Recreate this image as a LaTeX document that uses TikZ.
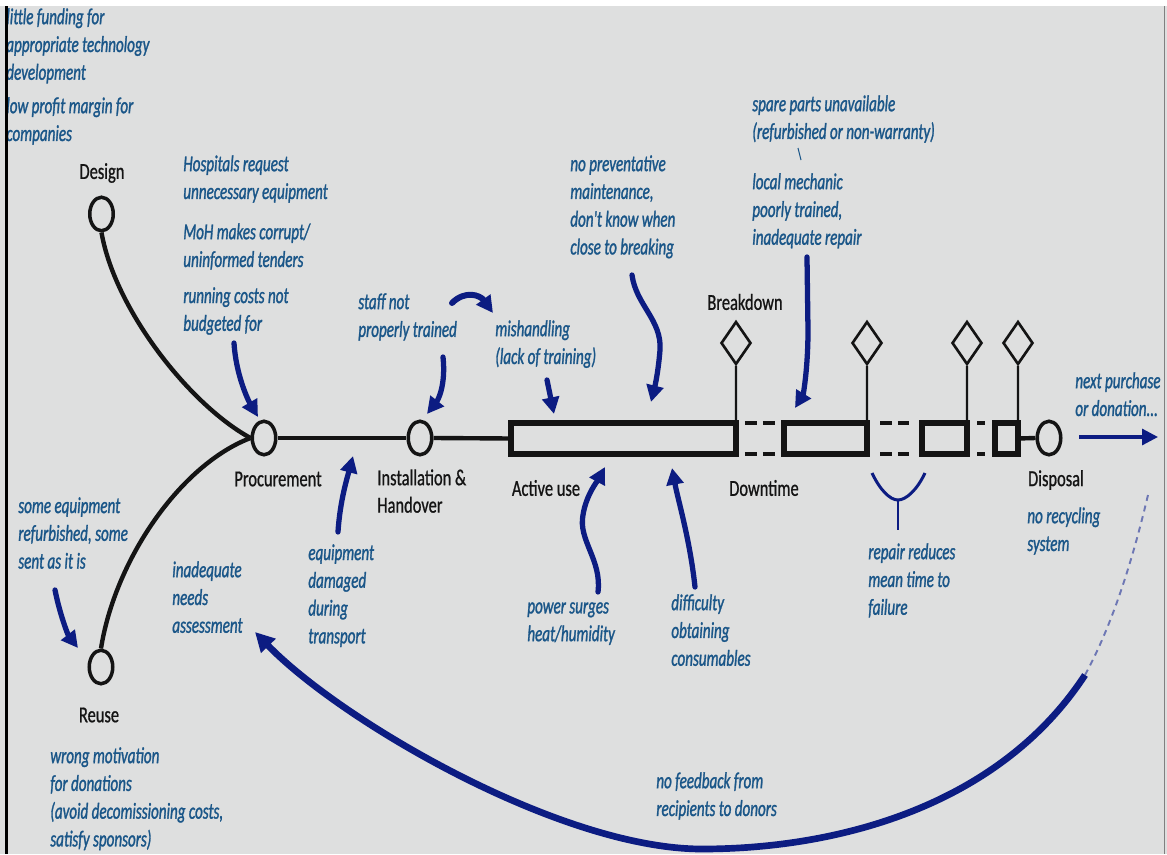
\documentclass[tikz,border=0pt]{standalone}
\usepackage{fontspec}
\setmainfont{Carlito}[FakeStretch=0.72, FakeBold=0.8]
\newfontfamily\notefont{Carlito}[FakeStretch=0.66, FakeBold=1.2]
\usetikzlibrary{arrows.meta, positioning, shapes.geometric}

\definecolor{paper}{RGB}{222,223,223}
\definecolor{noteblue}{RGB}{26,86,136}
\definecolor{arrowblue}{RGB}{12,28,130}
\definecolor{ink}{RGB}{20,20,20}

\begin{document}
\begin{tikzpicture}[x=0.2cm, y=-0.2cm,
    stage/.style={draw=ink, ellipse, line width=2pt, fill=paper,
        minimum width=0.47cm, minimum height=0.67cm, inner sep=0pt},
    brk/.style={draw=ink, diamond, line width=1.5pt, fill=paper,
        minimum width=0.60cm, minimum height=0.86cm, inner sep=0pt},
    usebox/.style={draw=ink, line width=3pt, inner sep=0pt, outer sep=0pt,
        minimum height=0.62cm},
    lbl/.style={text=ink, inner sep=0pt, font=\fontsize{13}{15.6}\selectfont},
    note/.style={text=noteblue, align=left, anchor=north west, inner sep=0pt,
        font=\notefont\itshape\fontsize{13}{15.8}\selectfont},
    cause/.style={draw=arrowblue, line width=3pt, line cap=round,
        -{Triangle[length=9.5pt,width=9.5pt]}},
    gap/.style={draw=ink, line width=2.8pt, dash pattern=on 6.8pt off 3.4pt}
]
    % Background
    \fill[paper] (0,0) rectangle (116.7,85.4);

    % Life cycle stages
    \node[stage] (design) at (10.15,21.4) {};
    \node[stage] (proc) at (26.4,43.8) {};
    \node[stage] (inst) at (42.0,43.8) {};
    \node[stage] (reuse) at (10.1,66.7) {};
    \node[stage] (disp) at (104.9,43.8) {};

    \node[lbl] at (10.2,17.3) {Design};
    \node[lbl] at (27.8,47.9) {Procurement};
    \node[lbl, align=left, anchor=north west] at (37.7,46.9) {Installation \&\\Handover};
    \node[lbl] at (54.6,48.8) {Active use};
    \node[lbl] at (76.4,48.8) {Downtime};
    \node[lbl] at (74.5,30.2) {Breakdown};
    \node[lbl] at (105.6,48.0) {Disposal};
    \node[lbl] at (9.9,71.5) {Reuse};

    % Use periods and breakdowns
    \node[usebox, minimum width=4.50cm] (b1) at (62.35,43.85) {};
    \node[usebox, minimum width=1.66cm] (b2) at (82.55,43.85) {};
    \node[usebox, minimum width=0.90cm] (b3) at (94.45,43.85) {};
    \node[usebox, minimum width=0.46cm] (b4) at (100.65,43.85) {};

    \node[brk] (d1) at (73.6,34.3) {};
    \node[brk] (d2) at (86.7,34.3) {};
    \node[brk] (d3) at (96.7,34.3) {};
    \node[brk] (d4) at (101.8,34.3) {};
    \draw[ink, line width=1.3pt] (d1.south) -- (b1.north east);
    \draw[ink, line width=1.3pt] (d2.south) -- (b2.north east);
    \draw[ink, line width=1.3pt] (d3.south) -- (b3.north east);
    \draw[ink, line width=1.3pt] (d4.south) -- (b4.north east);

    % Downtime gaps
    \draw[gap, shorten <=5.1pt, shorten >=5.1pt] (b1.north east) -- (b2.north west);
    \draw[gap, shorten <=5.1pt, shorten >=5.1pt] (b1.south east) -- (b2.south west);
    \draw[gap, shorten <=7.4pt, shorten >=7.4pt] (b2.north east) -- (b3.north west);
    \draw[gap, shorten <=7.4pt, shorten >=7.4pt] (b2.south east) -- (b3.south west);
    \draw[gap, shorten <=5.7pt, shorten >=5.7pt] (b3.north east) -- (b4.north west);
    \draw[gap, shorten <=5.7pt, shorten >=5.7pt] (b3.south east) -- (b4.south west);

    % Timeline
    \draw[ink, line width=2.5pt] (proc.east) -- (inst.west);
    \draw[ink, line width=2.5pt] (inst.east) -- (b1.west);
    \draw[ink, line width=2.5pt] (b4.east) -- (disp.west);
    \draw[ink, line width=2.5pt] (design.south) .. controls (11.5,31) and (19,40.5) .. (proc.west);
    \draw[ink, line width=2.5pt] (reuse.north) .. controls (11.5,56) and (18,46.5) .. (proc.west);

    % Problems
    \node[note] (funding) at (0.6,0.8) {little funding for\\appropriate technology\\development};
    \node[note] (profit) at (0.6,9.7) {low profit margin for\\companies};
    \node[note] (hosp) at (18.3,15.5) {Hospitals request\\unnecessary equipment};
    \node[note] (moh) at (18.3,22.3) {MoH makes corrupt/\\uninformed tenders};
    \node[note] (running) at (18.3,28.7) {running costs not\\budgeted for};
    \node[note] (staff) at (35.8,29.3) {staff not\\properly trained};
    \node[note] (mishand) at (49.5,32.0) {mishandling\\(lack of training)};
    \node[note] (prevent) at (57.0,15.5) {no preventative\\maintenance,\\don't know when\\close to breaking};
    \node[note] (spare) at (75.2,9.5) {spare parts unavailable\\(refurbished or non-warranty)};
    \node[note] (mechanic) at (75.2,17.3) {local mechanic\\poorly trained,\\inadequate repair};
    \node[note] (next) at (107.5,37.2) {next purchase\\or donation...};
    \node[note] (refurb) at (1.8,49.7) {some equipment\\refurbished, some\\sent as it is};
    \node[note] (needs) at (17.2,56.1) {inadequate\\needs\\assessment};
    \node[note] (damaged) at (30.8,54.4) {equipment\\damaged\\during\\transport};
    \node[note] (surges) at (52.7,60.2) {power surges\\heat/humidity};
    \node[note] (consum) at (67.1,59.4) {difficulty\\obtaining\\consumables};
    \node[note] (feedback) at (65.6,77.2) {no feedback from\\recipients to donors};
    \node[note] (mttf) at (86.8,54.3) {repair reduces\\mean time to\\failure};
    \node[note] (recycle) at (102.7,50.7) {no recycling\\system};
    \node[note] (motive) at (5.0,74.7) {wrong motivation\\for donations\\(avoid decomissioning costs,\\satisfy sponsors)};

    % Arrow ends
    \coordinate (runA) at (23.4,34.3);   \coordinate (runB) at (25.8,41.7);
    \coordinate (stfA) at (44.3,35.7);   \coordinate (stfB) at (42.7,41.4);
    \coordinate (arcA) at (45.2,30.3);   \coordinate (arcB) at (49.3,31.3);
    \coordinate (misA) at (54.7,38.0);   \coordinate (misB) at (55.4,41.4);
    \coordinate (prvA) at (63.2,27.5);   \coordinate (prvB) at (65.1,40.2);
    \coordinate (mecA) at (80.7,25.7);   \coordinate (mecB) at (79.5,40.8);
    \coordinate (spaA) at (79.8,14.8);   \coordinate (spaB) at (80.1,16.0);
    \coordinate (dmgA) at (33.8,53.2);   \coordinate (dmgB) at (35.3,45.6);
    \coordinate (srgA) at (59.8,59.2);   \coordinate (srgB) at (60.5,46.7);
    \coordinate (conA) at (69.5,58.7);   \coordinate (conB) at (67.2,46.8);
    \coordinate (refA) at (5.5,59.0);    \coordinate (refB) at (7.8,64.8);
    \coordinate (loopA) at (114.8,49.5); \coordinate (loopM) at (108.5,67.5);
    \coordinate (loopB) at (25.5,63.2);
    \coordinate (nxtA) at (107.9,43.7);  \coordinate (nxtB) at (115.8,43.7);
    \coordinate (yL) at (87.2,47.3);     \coordinate (yR) at (92.5,47.3);
    \coordinate (yM) at (89.8,50.0);     \coordinate (yB) at (89.8,53.0);

    \draw[cause] (runA) .. controls (23.6,37.5) and (24.8,40.0) .. (runB);
    \draw[cause] (stfA) .. controls (44.6,38.5) and (43.8,40.0) .. (stfB);
    \draw[cause, line width=3.4pt] (arcA) .. controls (46.5,29.0) and (48.0,29.5) .. (arcB);
    \draw[cause] (misA) -- (misB);
    \draw[cause] (prvA) .. controls (63.6,30.5) and (66.2,32.0) .. (66.0,35.0)
        .. controls (65.8,37.5) and (65.4,39.0) .. (prvB);
    \draw[cause] (mecA) -- (80.8,33.0) .. controls (80.8,37.0) and (80.3,39.5) .. (mecB);
    \draw[noteblue, line width=0.6pt] (spaA) -- (spaB);
    \draw[cause] (dmgA) .. controls (34.0,50.0) and (34.8,47.5) .. (dmgB);
    \draw[cause] (srgA) .. controls (60.2,56.0) and (57.8,54.0) .. (58.3,51.5)
        .. controls (58.6,49.5) and (59.8,48.0) .. (srgB);
    \draw[cause] (conA) .. controls (69.0,54.0) and (67.8,50.0) .. (conB);
    \draw[cause] (refA) .. controls (6.0,61.5) and (6.8,63.5) .. (refB);

    % Feedback loop
    \draw[arrowblue!60, line width=1.1pt, dash pattern=on 3.4pt off 2.8pt]
        (loopA) .. controls (113.5,55.0) and (111.5,62.0) .. (loopM);
    \draw[arrowblue, line width=3.8pt, -{Triangle[length=11pt,width=11pt]}]
        (loopM) .. controls (100.0,80.5) and (84.0,84.9) .. (70.2,84.9)
        .. controls (56.0,84.9) and (34.0,72.0) .. (loopB);

    \draw[arrowblue, line width=1.8pt, -{Triangle[length=9pt,width=9pt]}] (nxtA) -- (nxtB);

    % Mean time to failure mark
    \draw[arrowblue, line width=1.7pt] (yL) .. controls (88.0,49.0) and (89.0,50.0) .. (yM);
    \draw[arrowblue, line width=1.7pt] (yR) .. controls (91.7,49.0) and (90.6,50.0) .. (yM);
    \draw[arrowblue, line width=1.7pt] (yM) -- (yB);

    % Frame edges
    \fill[white] (0,0) rectangle (116.7,0.6);
    \fill[black] (0.5,0.6) rectangle (0.8,85.4);
    \draw[gray, line width=0.4pt] (116.4,0.6) -- (116.4,85.4);
\end{tikzpicture}
\end{document}
